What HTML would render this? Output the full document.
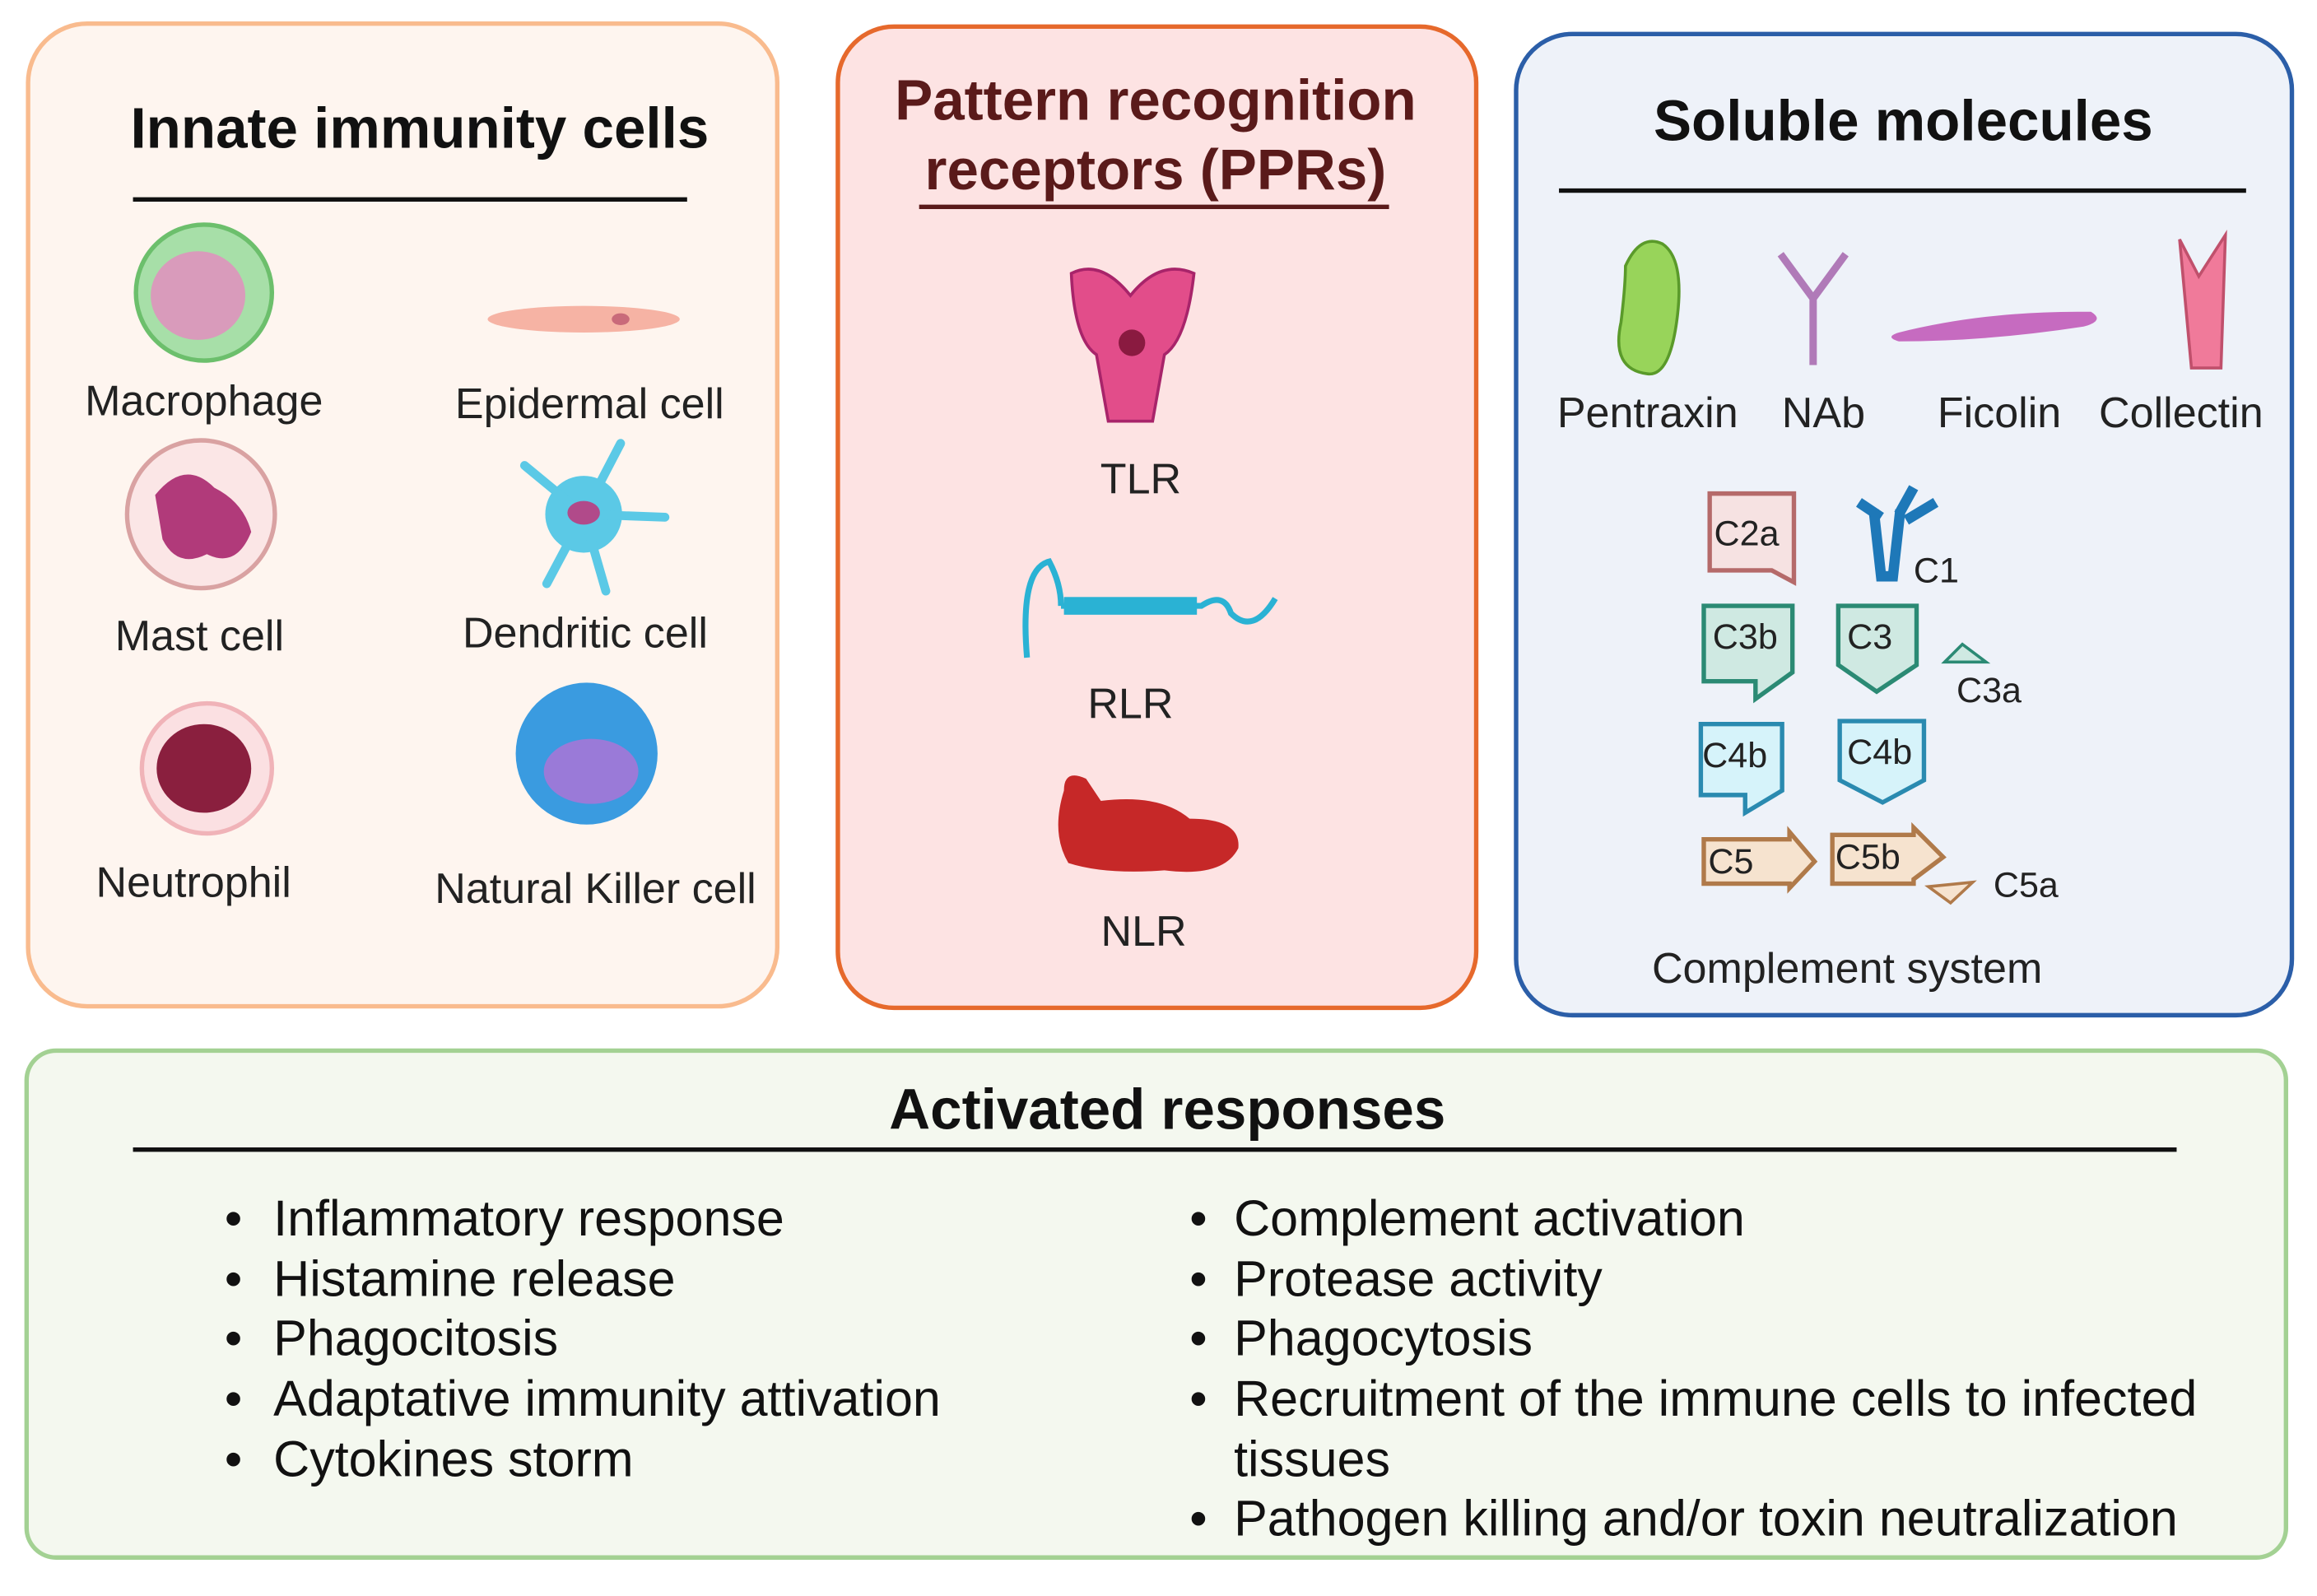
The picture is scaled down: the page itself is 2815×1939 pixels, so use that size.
<!DOCTYPE html>
<html><head><meta charset="utf-8"><style>
html,body{margin:0;padding:0;background:#fff;}
body{width:2815px;height:1929px;overflow:hidden;}
#s{position:absolute;left:0;top:0;width:1568px;height:1075px;transform:scale(1.7953);transform-origin:0 0;font-family:"Liberation Sans",Arial,sans-serif;}
</style></head><body><div id="s">
<svg width="1568" height="1075" viewBox="0 0 1568 1075" font-family="Liberation Sans, Arial, sans-serif">
<rect x="19" y="16" width="507" height="665" rx="40" fill="#fef5ef" stroke="#f9bb8e" stroke-width="3"/>
<rect x="567" y="18" width="432" height="664" rx="38" fill="#fde3e3" stroke="#e6692c" stroke-width="3"/>
<rect x="1026" y="23" width="525" height="664" rx="38" fill="#eef2f9" stroke="#2b5ea8" stroke-width="3"/>
<rect x="18" y="711" width="1529" height="343" rx="20" fill="#f4f8ef" stroke="#a3d193" stroke-width="3"/>

<g font-weight="bold" font-size="38.5" text-anchor="middle">
<text x="284" y="100" fill="#111">Innate immunity cells</text>
<text x="782" y="81" fill="#5a1a1a">Pattern recognition</text>
<text x="782" y="128" fill="#5a1a1a">receptors (PPRs)</text>
<text x="1288" y="95" fill="#111">Soluble molecules</text>
<text x="790" y="764" fill="#111">Activated responses</text>
</g>
<g stroke-width="3">
<line x1="90" y1="135" x2="465" y2="135" stroke="#111"/>
<line x1="622" y1="140" x2="940" y2="140" stroke="#5a1a1a"/>
<line x1="1055" y1="129" x2="1520" y2="129" stroke="#111"/>
<line x1="90" y1="778" x2="1473" y2="778" stroke="#111"/>
</g>

<!-- cells -->
<circle cx="138" cy="198" r="46" fill="#a7dfa8" stroke="#6cbf6c" stroke-width="3"/>
<ellipse cx="134" cy="200" rx="32" ry="30" fill="#d99bbb"/>
<ellipse cx="395" cy="216" rx="65" ry="9" fill="#f6b3a4"/>
<ellipse cx="420" cy="216" rx="6" ry="4" fill="#c96a7a"/>
<circle cx="136" cy="348" r="50" fill="#fbe6e6" stroke="#d9a2a2" stroke-width="3"/>
<path d="M105 335 q20 -25 40 -5 q20 10 25 30 q-10 25 -30 15 q-20 10 -30 -10 z" fill="#b13a7a"/>
<circle cx="395" cy="348" r="26" fill="#5bc9e6"/>
<g stroke="#5bc9e6" stroke-width="6" stroke-linecap="round"><line x1="395" y1="348" x2="355" y2="315"/><line x1="395" y1="348" x2="450" y2="350"/><line x1="395" y1="348" x2="370" y2="395"/><line x1="395" y1="348" x2="420" y2="300"/><line x1="395" y1="348" x2="410" y2="400"/></g>
<ellipse cx="395" cy="347" rx="11" ry="8" fill="#b14a8a"/>
<circle cx="140" cy="520" r="44" fill="#fbe0e2" stroke="#f0b3b8" stroke-width="3"/>
<ellipse cx="138" cy="520" rx="32" ry="30" fill="#8a1f3e"/>
<circle cx="397" cy="510" r="48" fill="#3a9be0"/>
<ellipse cx="400" cy="522" rx="32" ry="22" fill="#9a7ad8"/>
<g font-size="29" fill="#222" text-anchor="middle">
<text x="138" y="281">Macrophage</text>
<text x="399" y="283">Epidermal cell</text>
<text x="135" y="440">Mast cell</text>
<text x="396" y="438">Dendritic cell</text>
<text x="131" y="607">Neutrophil</text>
<text x="403" y="611">Natural Killer cell</text>
<text x="772" y="334">TLR</text>
<text x="765" y="486">RLR</text>
<text x="774" y="640">NLR</text>
<text x="1115" y="289">Pentraxin</text>
<text x="1234" y="289">NAb</text>
<text x="1353" y="289">Ficolin</text>
<text x="1476" y="289">Collectin</text>
<text x="1250" y="665">Complement system</text>
</g>
<!-- PRRs -->
<path d="M725 185 q20 -10 40 15 q20 -25 43 -15 q-5 45 -20 55 l-8 45 h-30 l-8 -45 q-15 -10 -17 -55z" fill="#e24d8a" stroke="#a8246a" stroke-width="2"/>
<circle cx="766" cy="232" r="9" fill="#8a1a40"/>
<path d="M695 445 q-5 -60 15 -65 q8 15 8 30 M718 410 h95 q15 -10 20 5 q15 15 30 -10" fill="none" stroke="#2ab2d4" stroke-width="4"/>
<rect x="720" y="404" width="90" height="12" fill="#2ab2d4"/>
<path d="M720 535 q0 -15 15 -8 l10 15 q40 -5 60 12 q35 0 33 20 q-10 20 -50 15 q-40 3 -65 -5 q-12 -20 -3 -49z" fill="#c62828"/>
<!-- soluble -->
<path d="M1100 180 q10 -22 25 -15 q15 10 10 50 q-5 40 -20 38 q-25 -3 -18 -35 q3 -25 3 -38z" fill="#98d45a" stroke="#5a9a2a" stroke-width="2"/>
<g stroke="#b07ab8" stroke-width="5" fill="none"><path d="M1205 172 l22 30 l22 -30 M1227 202 v45"/></g>
<path d="M1285 225 q60 -15 130 -14 q10 6 -5 10 q-65 10 -125 10 q-10 -3 0 -6z" fill="#c66bc0"/>
<path d="M1475 162 l13 25 l18 -28 l-3 90 h-20 z" fill="#f07a9a" stroke="#c0506c" stroke-width="2"/>
<g font-size="24" fill="#222">
<path d="M1157 334 h57 v60 l-15 -8 h-42z" fill="#f6e2e2" stroke="#b56a6a" stroke-width="3"/><text x="1160" y="369">C2a</text>
<path d="M1268 345 l5 45 h8 l5 -45 M1258 340 l15 10 M1295 330 l-10 18 M1310 340 l-20 12" stroke="#1e78b8" stroke-width="7" fill="none"/><text x="1295" y="394">C1</text>
<path d="M1153 410 h60 v45 l-25 18 v-12 h-35z" fill="#cfe9e2" stroke="#2b8a74" stroke-width="3"/><text x="1159" y="439">C3b</text>
<path d="M1244 410 h53 v40 l-27 18 l-26 -18z" fill="#cfe9e2" stroke="#2b8a74" stroke-width="3"/><text x="1250" y="439">C3</text>
<path d="M1316 448 l12 -12 l16 12z" fill="#cfe9e2" stroke="#2b8a74" stroke-width="2"/><text x="1324" y="475">C3a</text>
<path d="M1151 490 h55 v45 l-25 15 v-12 h-30z" fill="#d6f3fa" stroke="#2a8ab0" stroke-width="3"/><text x="1152" y="519">C4b</text>
<path d="M1245 488 h57 v40 l-28 15 l-29 -15z" fill="#d6f3fa" stroke="#2a8ab0" stroke-width="3"/><text x="1250" y="517">C4b</text>
<path d="M1153 568 h58 v-5 l17 20 l-17 18 v-3 h-58z" fill="#f6e3cf" stroke="#b07a4a" stroke-width="3"/><text x="1156" y="591">C5</text>
<path d="M1240 565 h55 v-5 l20 20 l-20 15 v3 h-55z" fill="#f6e3cf" stroke="#b07a4a" stroke-width="3"/><text x="1242" y="588">C5b</text>
<path d="M1305 600 l30 -3 l-15 14z" fill="#f6e3cf" stroke="#b07a4a" stroke-width="2"/><text x="1349" y="607">C5a</text>
</g>
<!-- bullets -->
<g font-size="34" fill="#111">
<text x="152" y="836">•</text><text x="185" y="836">Inflammatory response</text>
<text x="152" y="877">•</text><text x="185" y="877">Histamine release</text>
<text x="152" y="917">•</text><text x="185" y="917">Phagocitosis</text>
<text x="152" y="958">•</text><text x="185" y="958">Adaptative immunity attivation</text>
<text x="152" y="999">•</text><text x="185" y="999">Cytokines storm</text>
<text x="805" y="836">•</text><text x="835" y="836">Complement activation</text>
<text x="805" y="877">•</text><text x="835" y="877">Protease activity</text>
<text x="805" y="917">•</text><text x="835" y="917">Phagocytosis</text>
<text x="805" y="958">•</text><text x="835" y="958">Recruitment of the immune cells to infected</text>
<text x="835" y="999">tissues</text>
<text x="805" y="1039">•</text><text x="835" y="1039">Pathogen killing and/or toxin neutralization</text>
</g>
</svg>
</div></body></html>
